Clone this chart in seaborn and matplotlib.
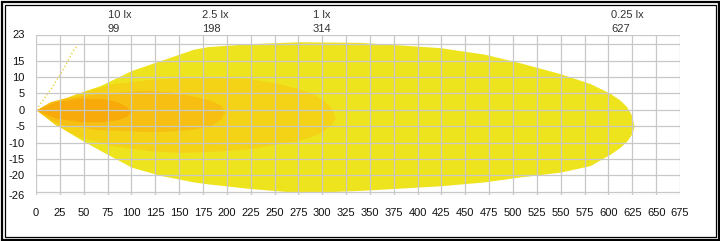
import numpy as np
import pandas as pd
import seaborn as sns
import matplotlib
matplotlib.use("Agg")
import matplotlib.pyplot as plt
from matplotlib.patches import Rectangle
from matplotlib.transforms import IdentityTransform

# ---- data: beam iso-lux contours (distance in m, width in m) ----
lux_labels = ["10 lx", "2.5 lx", "1 lx", "0.25 lx"]
lux_dist = [99, 198, 314, 627]

c025_x = [0, 15, 32, 50, 68, 100, 130, 165, 180, 224, 277, 340, 423, 470, 507, 550, 581, 602, 612, 619, 624, 627]
c025_top = [0, 1.7, 3.6, 5.7, 7.5, 12, 15, 18.5, 19.3, 20.2, 20.8, 20.6, 19, 17, 14.4, 11, 8, 5, 3, 1, -1.5, -5]
c025_bot = [0, -3, -6.5, -9.6, -12.5, -17.5, -20, -22, -22.6, -24, -25.3, -24.6, -23.2, -22, -20.5, -19, -17, -13.5, -11.5, -9.6, -7.5, -5]

c1_x = [0, 20, 43, 81, 120, 151, 190, 221, 250, 273, 290, 301, 309, 314]
c1_top = [0, 2.5, 5, 8, 9.3, 9.8, 9.8, 9.6, 8.3, 6.6, 5, 3, 0.8, -2.5]
c1_bot = [0, -4.5, -8, -11, -12.5, -13, -12.6, -12, -10.5, -9.5, -8, -6.5, -4.5, -2.5]

c25_x = [0, 15, 28, 64, 116, 140, 160, 182, 193, 198]
c25_top = [0, 2.5, 3.5, 5, 6, 5.5, 4.5, 3, 1.5, -0.5]
c25_bot = [0, -3, -4.5, -6, -6.6, -6.5, -6, -5, -3, -0.5]

c10_x = [0, 20, 46, 70, 85, 95, 99]
c10_top = [0, 2.5, 3.6, 3.4, 2.5, 1, -0.5]
c10_bot = [0, -2.5, -3.6, -3.6, -3, -2, -0.5]

ray_x = [0, 15, 28, 39, 43]
ray_y = [0, 6, 12, 18, 19.5]

x_ticks = list(range(0, 676, 25))
y_ticks = [23, 15, 10, 5, 0, -5, -10, -15, -20, -26]
y_minor = [20, -25]

colors = ["#EEE41E", "#F4D216", "#F6BF12", "#F8AA0B"]

sns.set_theme(style="white")
plt.rcParams["font.family"] = ["Liberation Sans", "DejaVu Sans"]

fig = plt.figure(figsize=(7.2, 2.41), dpi=100)
ax = fig.add_axes([36 / 720, 1 - 195 / 241, 644 / 720, 160.5 / 241])

contours = [(c025_x, c025_top, c025_bot), (c1_x, c1_top, c1_bot),
            (c25_x, c25_top, c25_bot), (c10_x, c10_top, c10_bot)]
for (cx, ct, cb), col in zip(contours, colors):
    ax.fill_between(cx, ct, cb, color=col, lw=0, zorder=1)

ray = pd.DataFrame({"x": ray_x, "y": ray_y})
sns.lineplot(data=ray, x="x", y="y", ax=ax, color="#E8D43A", lw=1,
             linestyle=":", zorder=2, sort=False)

ax.set_xlim(0, 675)
ax.set_ylim(-26, 23)
ax.set_xticks(x_ticks)
ax.set_xticklabels([str(v) for v in x_ticks])
ax.set_yticks(y_ticks)
ax.set_yticklabels([str(v) for v in y_ticks])
ax.set_yticks(y_minor, minor=True)
ax.set_xlabel("")
ax.set_ylabel("")
ax.set_axisbelow(False)
ax.grid(True, which="both", color="#C8C8C8", lw=0.9, zorder=3)
for s in ax.spines.values():
    s.set_visible(False)
ax.tick_params(axis="both", which="both", length=4.5, width=0.8, color="#C8C8C8",
               labelsize=8, labelcolor="#111111", pad=3.5)
ax.tick_params(axis="x", pad=5)

for lab, d in zip(lux_labels, lux_dist):
    ax.text(d - 24, 1.122, lab, transform=ax.get_xaxis_transform(),
            ha="left", va="center", fontsize=8, color="#333333")
    ax.text(d - 24, 1.035, str(d), transform=ax.get_xaxis_transform(),
            ha="left", va="center", fontsize=8, color="#333333")

fig.add_artist(Rectangle((1.5, 1.5), 717, 238, transform=IdentityTransform(),
                         fill=False, ec="black", lw=1.6))
fig.add_artist(Rectangle((4.5, 4.5), 711, 232, transform=IdentityTransform(),
                         fill=False, ec="black", lw=0.9))

fig.savefig("out.png", dpi=100, facecolor="white")
